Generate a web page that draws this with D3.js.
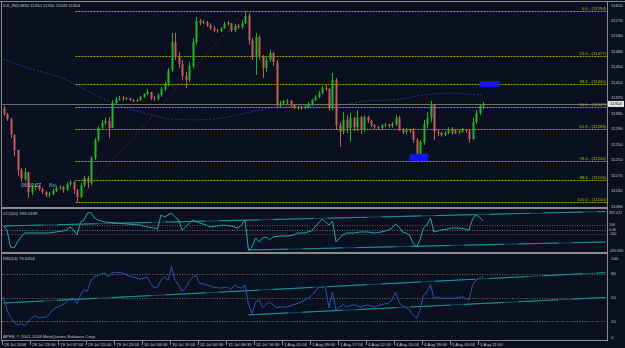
<!DOCTYPE html>
<html>
<head>
<meta charset="utf-8">
<script src="https://cdn.jsdelivr.net/npm/d3@7"></script>
<style>
  html, body { margin: 0; padding: 0; background: #0b1021; }
  svg { display: block; font-family: "Liberation Sans", Arial, sans-serif; }
</style>
</head>
<body>
<div id="chart"></div>
<script>
const symbolTitle = 'DJI_IND,M30  11350 11350 11349 11354';
const cciTitle = 'CCI(50) 199.2499';
const rsiTitle = 'RSI(14) 76.6354';
const copyright = 'APFB, \u00a9 2001-2008 MetaQuotes Software Corp.';

// hourly-ish bars, open = previous close
const firstOpen = 11343;
const closes = [
  11328, 11315, 11274, 11235, 11183, 11160, 11178, 11126, 11139, 11142,
  11134, 11126, 11118, 11121, 11129, 11137, 11139, 11132, 11147, 11152,
  11132, 11113, 11144, 11162, 11150, 11214, 11261, 11292, 11305, 11310,
  11292, 11356, 11367, 11369, 11367, 11369, 11364, 11362, 11364, 11372,
  11380, 11385, 11369, 11367, 11377, 11393, 11406, 11442, 11514, 11478,
  11457, 11426, 11416, 11452, 11514, 11569, 11563, 11566, 11558, 11550,
  11545, 11543, 11550, 11561, 11563, 11545, 11556, 11553, 11563, 11582,
  11519, 11475, 11527, 11478, 11447, 11468, 11486, 11463, 11351, 11356,
  11362, 11362, 11351, 11343, 11346, 11343, 11346, 11354, 11364, 11372,
  11382, 11395, 11393, 11343, 11416, 11299, 11282, 11313, 11292, 11318,
  11294, 11320, 11287, 11320, 11310, 11299, 11294, 11292, 11299, 11302,
  11297, 11302, 11318, 11289, 11282, 11287, 11284, 11261, 11219, 11256,
  11302, 11318, 11351, 11282, 11279, 11274, 11279, 11289, 11279, 11284,
  11282, 11287, 11284, 11263, 11307, 11331, 11349, 11354
];
const highs = [
  11349, 11331, 11318, 11276, 11235, 11188, 11188, 11178, 11144, 11147,
  11144, 11137, 11129, 11126, 11134, 11142, 11144, 11142, 11152, 11157,
  11155, 11134, 11150, 11168, 11168, 11219, 11266, 11297, 11313, 11318,
  11320, 11364, 11372, 11375, 11375, 11372, 11369, 11367, 11367, 11375,
  11382, 11393, 11385, 11375, 11382, 11398, 11411, 11447, 11538, 11538,
  11488, 11468, 11437, 11463, 11525, 11579, 11574, 11571, 11569, 11563,
  11556, 11548, 11553, 11566, 11569, 11563, 11561, 11561, 11571, 11594,
  11589, 11525, 11538, 11532, 11481, 11476, 11494, 11488, 11468, 11362,
  11364, 11367, 11364, 11354, 11349, 11349, 11351, 11359, 11367, 11377,
  11388, 11400, 11403, 11395, 11434, 11421, 11307, 11333, 11325, 11331,
  11320, 11338, 11323, 11325, 11323, 11313, 11302, 11297, 11302, 11305,
  11302, 11307, 11325, 11323, 11292, 11292, 11289, 11292, 11266, 11261,
  11313, 11333, 11362, 11354, 11287, 11282, 11284, 11294, 11294, 11289,
  11287, 11292, 11289, 11287, 11318, 11338, 11354, 11359
];
const lows = [
  11323, 11310, 11266, 11219, 11168, 11152, 11155, 11111, 11118, 11132,
  11129, 11121, 11113, 11113, 11118, 11126, 11132, 11124, 11129, 11142,
  11121, 11100, 11111, 11139, 11137, 11144, 11209, 11256, 11287, 11299,
  11266, 11292, 11354, 11362, 11362, 11364, 11362, 11359, 11359, 11362,
  11369, 11377, 11364, 11362, 11364, 11372, 11388, 11400, 11437, 11468,
  11447, 11416, 11395, 11411, 11447, 11507, 11558, 11561, 11553, 11545,
  11540, 11538, 11540, 11548, 11556, 11540, 11540, 11548, 11548, 11561,
  11507, 11468, 11429, 11468, 11421, 11437, 11463, 11452, 11343, 11343,
  11351, 11354, 11346, 11341, 11338, 11338, 11341, 11343, 11349, 11362,
  11369, 11380, 11388, 11336, 11338, 11287, 11243, 11276, 11279, 11256,
  11284, 11284, 11276, 11282, 11305, 11294, 11289, 11287, 11289, 11294,
  11292, 11292, 11297, 11284, 11276, 11276, 11279, 11253, 11204, 11209,
  11248, 11292, 11307, 11261, 11271, 11269, 11271, 11276, 11274, 11276,
  11276, 11279, 11279, 11253, 11261, 11302, 11325, 11341
];

// [bar, value]
const maPoints = [
  [0, 11470], [8, 11444], [16, 11424], [24, 11388], [32, 11354], [40, 11331],
  [48, 11315], [56, 11313], [64, 11320], [72, 11336], [80, 11348], [88, 11349],
  [96, 11351], [104, 11362], [112, 11365], [120, 11377], [128, 11382], [136, 11378], [137, 11378]
];
const cciPoints = [
  [0, 82], [1, -12], [2, -409], [3, -433], [4, -292], [5, -175], [6, -82], [10, -82], [13, -82],
  [15, -58], [17, -35], [18, -12], [19, 58], [20, -12], [21, -129], [22, 175], [23, 222], [24, 386],
  [25, 397.472], [26, 269], [27, 222], [29, 175], [32, 152], [35, 129], [39, 105], [41, 58], [43, 35],
  [44, 12], [45, 339], [46, 292], [47, 339], [48, 386], [49, 292], [50, 222], [51, -12], [52, 58],
  [54, 222], [56, 152], [58, 105], [59, 58], [61, 82], [63, 105], [65, 82], [67, 35], [68, 105],
  [69, 222], [70, -490.963], [71, -409], [72, -199], [73, -292], [74, -199], [75, -175], [76, -245],
  [77, -175], [79, -152], [81, -152], [83, -129], [84, -82], [86, -82], [88, -35], [89, 58], [90, 152],
  [91, 245], [92, 175], [93, 105], [94, 199], [95, -292], [96, -199], [97, -129], [98, -82], [100, -82],
  [102, -58], [104, -58], [106, -82], [108, -58], [110, -12], [111, 35], [112, 129], [113, 58],
  [114, -58], [115, -82], [116, -129], [117, -316], [118, -409], [119, -245], [120, 35], [121, 105],
  [122, 269], [123, -58], [125, -12], [127, 12], [128, 35], [130, 35], [132, 12], [133, -12],
  [134, 245], [135, 339], [136, 292], [137, 199.2499]
];
const rsiPoints = [
  [0, 50.6], [1, 34], [2, 25], [3, 19], [4, 15], [5, 17], [6, 14], [7, 19], [8, 24], [9, 27], [10, 24],
  [11, 25], [12, 25], [13, 28], [14, 34], [15, 37], [17, 41], [18, 44], [19, 49], [20, 49], [21, 42],
  [22, 53], [23, 60], [24, 58], [25, 72], [26, 76], [27, 78], [28, 80], [29, 81], [30, 76], [31, 81],
  [32, 82], [34, 81], [36, 77], [38, 75], [39, 73], [41, 76], [42, 68], [43, 62], [44, 63], [45, 72],
  [46, 76], [47, 72], [48, 89], [49, 72], [50, 66], [51, 58], [52, 62], [53, 70], [54, 76], [55, 78],
  [56, 68], [58, 66], [60, 63], [62, 62], [64, 63], [65, 60], [66, 66], [67, 63], [68, 62], [69, 66],
  [70, 41], [71, 30], [72, 44], [73, 47], [74, 37], [75, 41], [76, 44], [77, 41], [78, 37], [79, 38],
  [81, 38], [83, 41], [85, 44], [87, 49], [88, 53], [89, 57], [90, 63], [91, 63], [92, 62], [93, 37],
  [94, 57], [95, 34], [96, 38], [97, 41], [98, 38], [100, 41], [102, 38], [104, 41], [106, 38],
  [108, 41], [110, 43], [111, 47], [112, 57], [113, 44], [114, 39], [115, 37], [116, 34], [117, 28],
  [118, 24], [119, 34], [120, 53], [121, 57], [122, 66], [123, 49], [124, 51], [125, 49], [127, 49],
  [129, 49], [131, 51], [133, 47], [134, 66], [135, 72], [136, 75], [137, 76.6354]
];

const priceTicks = [11610, 11570, 11530, 11490, 11450, 11410, 11370, 11330, 11290, 11250, 11210, 11170, 11130, 11090];
const cciTicks = [397.472, 100, 0, -100, -490.963];
const cciTickLabels = ['397.472', '100', '0.00', '-100', '-490.963'];
const cciLevels = [100, 0, -100];
const rsiTicks = [100, 80, 50, 20, 0];
const rsiLevels = [80, 50, 20];
const timeLabels = [
  '28 Jul 2008', '28 Jul 23:00', '29 Jul 07:00', '29 Jul 15:00', '29 Jul 23:00', '30 Jul 08:00',
  '30 Jul 16:00', '31 Jul 00:30', '31 Jul 08:30', '31 Jul 16:30', '1 Aug 01:00', '1 Aug 09:00',
  '1 Aug 17:00', '4 Aug 02:00', '4 Aug 10:00', '4 Aug 18:00', '5 Aug 03:00', '5 Aug 11:00'
];
const barsPerLabel = 8;

const fibRatios = [0, 0.236, 0.382, 0.5, 0.618, 0.786, 0.886, 1];
const fibLow = { bar: 21, price: 11100 };
const fibHigh = { bar: 69, price: 11594 };
const blueBoxes = [[136, 141.7, 11413, 11398], [116, 121.3, 11225, 11206]];
const cciTrendLines = [[[0, 82], [172, 421]], [[70, -480], [172, -292]]];
const rsiTrendLines = [[[0, 43], [172, 81.5]], [[70, 28], [172, 50]]];
const bidPrice = 11354;

const W = 625, H = 348;
const PLOT_RIGHT = 607;
const MAIN = { top: 2, bottom: 207 };
const CCI = { top: 209, bottom: 252 };
const RSI = { top: 254, bottom: 340 };
const GRID = '#8c8c8c';
const TXT = '#c4c4c4';
const FS = 4.3;

const xScale = d3.scaleLinear().domain([0, 172]).range([3.5, 605.5]);
const yPrice = d3.scaleLinear().domain([11090, 11610]).range([206, 5]);
const yCci = d3.scaleLinear().domain([-490.963, 397.472]).range([250.5, 212.5]);
const yRsi = d3.scaleLinear().domain([0, 100]).range([337, 258]);

const svg = d3.select('#chart').append('svg')
  .attr('width', W).attr('height', H);

svg.append('rect').attr('width', W).attr('height', H).attr('fill', '#0b1021');

const defs = svg.append('defs');
[['clipMain', MAIN], ['clipCci', CCI], ['clipRsi', RSI]].forEach(([id, p]) => {
  defs.append('clipPath').attr('id', id)
    .append('rect').attr('x', 2).attr('y', p.top).attr('width', PLOT_RIGHT - 2).attr('height', p.bottom - p.top);
});

// ---------- main panel ----------
const main = svg.append('g').attr('clip-path', 'url(#clipMain)');

// moving average
main.append('path')
  .datum(maPoints)
  .attr('fill', 'none')
  .attr('stroke', '#22378a')
  .attr('stroke-width', 1)
  .attr('stroke-dasharray', '2,1.5')
  .attr('d', d3.line().x(d => xScale(d[0])).y(d => yPrice(d[1])).curve(d3.curveMonotoneX));

// bid line
main.append('line')
  .attr('x1', 2).attr('x2', PLOT_RIGHT)
  .attr('y1', Math.round(yPrice(bidPrice)) + 0.5).attr('y2', Math.round(yPrice(bidPrice)) + 0.5)
  .attr('stroke', '#707070');

// fibonacci levels
const fibStart = xScale(fibLow.bar) - 1.5;
const fibLevels = fibRatios.map(r => ({ r, price: fibHigh.price - r * (fibHigh.price - fibLow.price) }));
main.selectAll('line.fib')
  .data(fibLevels)
  .enter()
  .append('line')
  .attr('class', 'fib')
  .attr('x1', fibStart).attr('x2', PLOT_RIGHT)
  .attr('y1', d => Math.round(yPrice(d.price)) + 0.5)
  .attr('y2', d => Math.round(yPrice(d.price)) + 0.5)
  .attr('stroke', '#a3a300')
  .attr('stroke-dasharray', '2,1');

main.selectAll('text.fib')
  .data(fibLevels)
  .enter()
  .append('text')
  .attr('class', 'fib')
  .attr('x', PLOT_RIGHT - 1)
  .attr('y', d => yPrice(d.price) - 1)
  .attr('text-anchor', 'end')
  .attr('font-size', FS)
  .attr('fill', '#b8b800')
  .text(d => `${(d.r * 100).toFixed(1)} - (${Math.round(d.price)})`);

// fibo trend line
main.append('line')
  .attr('x1', xScale(fibLow.bar) - 1).attr('y1', yPrice(fibLow.price))
  .attr('x2', xScale(fibHigh.bar)).attr('y2', yPrice(fibHigh.price))
  .attr('stroke', '#9a1e1e')
  .attr('stroke-dasharray', '1,2');

// candles
const bars = closes.map((c, i) => ({
  i,
  open: i === 0 ? firstOpen : closes[i - 1],
  close: c,
  high: highs[i],
  low: lows[i]
}));
const UP = '#22b422', DOWN = '#c65c5c';

main.selectAll('line.wick')
  .data(bars)
  .enter()
  .append('line')
  .attr('class', 'wick')
  .attr('x1', d => Math.round(xScale(d.i)) + 0.5)
  .attr('x2', d => Math.round(xScale(d.i)) + 0.5)
  .attr('y1', d => yPrice(d.high))
  .attr('y2', d => yPrice(d.low))
  .attr('stroke', d => d.close >= d.open ? UP : DOWN);

main.selectAll('rect.body')
  .data(bars)
  .enter()
  .append('rect')
  .attr('class', 'body')
  .attr('x', d => Math.round(xScale(d.i)) - 0.5)
  .attr('width', 2)
  .attr('y', d => yPrice(Math.max(d.open, d.close)))
  .attr('height', d => Math.max(1, Math.abs(yPrice(d.open) - yPrice(d.close))))
  .attr('fill', d => d.close >= d.open ? UP : DOWN);

// blue rectangles
main.selectAll('rect.box')
  .data(blueBoxes)
  .enter()
  .append('rect')
  .attr('class', 'box')
  .attr('x', d => xScale(d[0]))
  .attr('width', d => xScale(d[1]) - xScale(d[0]))
  .attr('y', d => yPrice(d[2]))
  .attr('height', d => yPrice(d[3]) - yPrice(d[2]))
  .attr('fill', '#1414f0');

// countdown labels
main.append('text').attr('x', xScale(5)).attr('y', yPrice(11144) + 2)
  .attr('font-size', 5.2).attr('fill', '#b8b8b8').text('06:10:27');
main.append('text').attr('x', xScale(13)).attr('y', yPrice(11144) + 2)
  .attr('font-size', 5.2).attr('fill', '#3fb0c8').text('8w');

svg.append('text').attr('x', 3).attr('y', 7)
  .attr('font-size', FS).attr('fill', TXT).text(symbolTitle);

// ---------- CCI panel ----------
const cciG = svg.append('g').attr('clip-path', 'url(#clipCci)');
cciG.selectAll('line.lvl')
  .data(cciLevels)
  .enter()
  .append('line')
  .attr('x1', 2).attr('x2', PLOT_RIGHT)
  .attr('y1', d => Math.round(yCci(d)) + 0.5).attr('y2', d => Math.round(yCci(d)) + 0.5)
  .attr('stroke', d => d === 0 ? '#6e6e6e' : '#7e4036')
  .attr('stroke-dasharray', '1,1.5');

const drawTrend = (g, lines, yScale) => {
  lines.forEach(l => {
    g.append('line')
      .attr('x1', xScale(l[0][0])).attr('y1', yScale(l[0][1]))
      .attr('x2', xScale(l[1][0])).attr('y2', yScale(l[1][1]))
      .attr('stroke', '#0e5252');
    g.append('line')
      .attr('x1', xScale(l[0][0])).attr('y1', yScale(l[0][1]))
      .attr('x2', xScale(l[1][0])).attr('y2', yScale(l[1][1]))
      .attr('stroke', '#169494')
      .attr('stroke-dasharray', '40,14');
  });
};
drawTrend(cciG, cciTrendLines, yCci);

cciG.append('path')
  .datum(cciPoints)
  .attr('fill', 'none')
  .attr('stroke', '#1fa8a8')
  .attr('stroke-width', 1)
  .attr('d', d3.line().x(d => xScale(d[0])).y(d => yCci(d[1])));

svg.append('text').attr('x', 3).attr('y', CCI.top + 5.5)
  .attr('font-size', FS).attr('fill', TXT).text(cciTitle);

// ---------- RSI panel ----------
const rsiG = svg.append('g').attr('clip-path', 'url(#clipRsi)');
rsiG.selectAll('line.lvl')
  .data(rsiLevels)
  .enter()
  .append('line')
  .attr('x1', 2).attr('x2', PLOT_RIGHT)
  .attr('y1', d => Math.round(yRsi(d)) + 0.5).attr('y2', d => Math.round(yRsi(d)) + 0.5)
  .attr('stroke', '#7d6a38')
  .attr('stroke-dasharray', '1,1.5');

drawTrend(rsiG, rsiTrendLines, yRsi);

rsiG.append('path')
  .datum(rsiPoints)
  .attr('fill', 'none')
  .attr('stroke', '#2557ad')
  .attr('stroke-width', 1)
  .attr('d', d3.line().x(d => xScale(d[0])).y(d => yRsi(d[1])));

svg.append('text').attr('x', 3).attr('y', RSI.top + 5.5)
  .attr('font-size', FS).attr('fill', TXT).text(rsiTitle);
svg.append('text').attr('x', 3).attr('y', RSI.bottom - 2)
  .attr('font-size', FS).attr('fill', TXT).text(copyright);

// ---------- frames ----------
svg.append('rect').attr('x', 0).attr('y', 1).attr('width', W).attr('height', 1).attr('fill', GRID);
svg.append('rect').attr('x', 1).attr('y', 1).attr('width', 1).attr('height', RSI.bottom - 1).attr('fill', GRID);
svg.append('rect').attr('x', PLOT_RIGHT).attr('y', 1).attr('width', 1).attr('height', RSI.bottom).attr('fill', GRID);
[MAIN.bottom, CCI.bottom].forEach(y => {
  svg.append('rect').attr('x', 1).attr('y', y).attr('width', PLOT_RIGHT).attr('height', 2).attr('fill', GRID);
});
svg.append('rect').attr('x', 1).attr('y', RSI.bottom).attr('width', PLOT_RIGHT).attr('height', 1).attr('fill', GRID);

// ---------- right axes ----------
const axisText = (vals, labels, yScale, size, dx) => {
  svg.append('g').selectAll('text')
    .data(vals)
    .enter()
    .append('text')
    .attr('x', PLOT_RIGHT + dx)
    .attr('y', d => yScale(d))
    .attr('dy', '0.35em')
    .attr('font-size', size)
    .attr('fill', TXT)
    .text((d, i) => labels ? labels[i] : d);
};
axisText(priceTicks, null, yPrice, FS, 4);
axisText(cciTicks, cciTickLabels, yCci, 3.6, 2);
axisText(rsiTicks, null, yRsi, FS, 4);

// bid price box
const bidY = yPrice(bidPrice);
svg.append('rect').attr('x', PLOT_RIGHT + 1).attr('y', bidY - 3).attr('width', 16).attr('height', 6).attr('fill', '#e6e6e6');
svg.append('text').attr('x', PLOT_RIGHT + 3).attr('y', bidY).attr('dy', '0.35em')
  .attr('font-size', FS).attr('fill', '#000').text(bidPrice);

// ---------- time axis ----------
const tg = svg.append('g');
timeLabels.forEach((lbl, k) => {
  const x = xScale(k * barsPerLabel) - 1.5;
  tg.append('line').attr('x1', Math.round(x) + 0.5).attr('x2', Math.round(x) + 0.5)
    .attr('y1', RSI.bottom + 1).attr('y2', RSI.bottom + 5).attr('stroke', GRID);
  tg.append('text').attr('x', x + 2).attr('y', RSI.bottom + 6)
    .attr('font-size', FS).attr('fill', TXT).text(lbl);
});
</script>
</body>
</html>
